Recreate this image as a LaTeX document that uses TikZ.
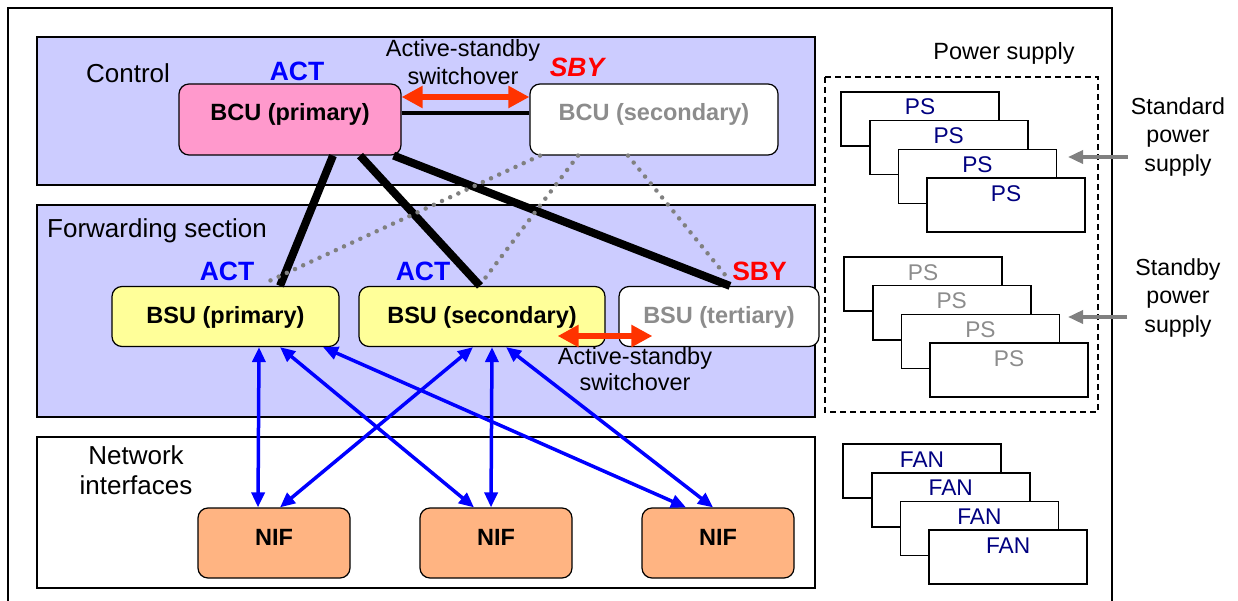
\documentclass[tikz,border=0pt]{standalone}
\usepackage{fontspec}
\setmainfont{Liberation Sans}
\usetikzlibrary{arrows.meta}
\definecolor{panelblue}{RGB}{204,204,255}
\definecolor{pinkfill}{RGB}{255,153,204}
\definecolor{yellowfill}{RGB}{255,255,153}
\definecolor{niforange}{RGB}{255,180,130}
\definecolor{arrowred}{RGB}{255,51,0}
\definecolor{dotgray}{RGB}{128,128,128}
\definecolor{graytext}{RGB}{140,140,140}
\definecolor{psnavy}{RGB}{0,0,128}

\begin{document}
\begin{tikzpicture}[x=1pt,y=-1pt,
  every node/.style={inner sep=0pt},
  panel/.style={draw,line width=1.2pt},
  unit/.style={draw,line width=1.2pt,rounded corners=10pt,inner sep=3pt,text height=17pt,font=\fontsize{23.5}{28}\selectfont\bfseries},
  stackbox/.style={draw,line width=1.6pt,fill=white,minimum width=158pt,minimum height=54pt,text height=16pt,text depth=24pt,font=\fontsize{22.7}{27}\selectfont},
  lbl/.style={font=\fontsize{26}{30}\selectfont,align=center},
  note/.style={font=\fontsize{23.5}{28}\selectfont,align=center},
  state/.style={font=\fontsize{26.5}{30}\selectfont\bfseries},
  link/.style={line width=8pt},
  backup/.style={draw=dotgray,line width=4.5pt,dash pattern=on 0pt off 9pt,line cap=round},
  bus/.style={draw=blue,line width=3.5pt,{Triangle[length=15pt,width=13pt]}-{Triangle[length=15pt,width=13pt]}},
  swap/.style={draw=arrowred,line width=6pt,{Triangle[length=21pt,width=21pt]}-{Triangle[length=21pt,width=21pt]}},
  feed/.style={draw=dotgray,line width=3.5pt,-{Triangle[length=15pt,width=13pt]}}]
\useasboundingbox (0,0) rectangle (1238,601);
\draw[line width=1.3pt] (8,601) -- (8,8) -- (1112,8) -- (1112,601);
\draw[panel,fill=panelblue] (37,37) rectangle (815,185);
\draw[panel,fill=panelblue] (37,205) rectangle (815,417);
\draw[panel] (37,437) rectangle (815,588);
\node[lbl] (ctl) at (128,73) {Control};
\node[lbl,anchor=west] (fwd) at (47,231) {Forwarding section};
\node[lbl] (nwif) at (136,470) {Network\\interfaces};
\node[note] (swtop) at (463,62) {Active-standby\\switchover};
\node[note,font=\fontsize{23.5}{26}\selectfont] (swbot) at (635,369) {Active-standby\\switchover};
\node[state,text=blue] (actA) at (297,71) {ACT};
\node[state,text=red,font=\fontsize{26.5}{30}\selectfont\bfseries\itshape] (sbyA) at (577,67) {SBY};
\node[state,text=blue] (actB) at (227,271) {ACT};
\node[state,text=blue] (actC) at (423,271) {ACT};
\node[state,text=red] (sbyB) at (759.5,271) {SBY};
\node[unit,fill=pinkfill,minimum width=222pt,minimum height=71pt,text depth=15pt] (bcuA) at (290,119.5) {BCU (primary)};
\node[unit,fill=white,text=graytext,minimum width=248pt,minimum height=71pt,text depth=15pt] (bcuB) at (654,119.5) {BCU (secondary)};
\node[unit,fill=yellowfill,minimum width=227pt,minimum height=60pt,text depth=3pt] (bsuA) at (225.5,316.5) {BSU (primary)};
\node[unit,fill=yellowfill,minimum width=246pt,minimum height=60pt,text depth=3pt] (bsuB) at (482,316.5) {BSU (secondary)};
\node[unit,fill=white,text=graytext,minimum width=200pt,minimum height=60pt,text depth=3pt] (bsuC) at (719,316.5) {BSU (tertiary)};
\foreach \n/\x in {1/274,2/496,3/718}
\node[unit,fill=niforange,minimum width=152pt,minimum height=70pt,text depth=12pt] (nif\n) at (\x,543) {NIF};
\draw[line width=4pt] ([yshift=6.5pt]bcuA.east) -- ([yshift=6.5pt]bcuB.west);
\draw[swap] ([yshift=22.5pt]bcuA.east) -- ([yshift=22.5pt]bcuB.west);
\draw[swap] ([xshift=-48pt,yshift=-19.5pt]bsuB.east) -- ([xshift=34pt,yshift=-19.5pt]bsuC.west);
\draw[link] ([xshift=43pt]bcuA.south) -- ([xshift=54.5pt]bsuA.north);
\draw[link] ([xshift=70pt]bcuA.south) -- ([xshift=-2pt]bsuB.north);
\draw[link] ([xshift=-8pt]bcuA.south east) -- ([xshift=11pt]bsuC.north);
\draw[backup] ([xshift=-114pt]bcuB.south) -- ([xshift=37.5pt,yshift=2pt]bsuA.north);
\draw[backup] ([xshift=-76pt]bcuB.south) -- ([xshift=1pt,yshift=5pt]bsuB.north);
\draw[backup] ([xshift=-26pt]bcuB.south) -- ([xshift=11pt,yshift=5pt]bsuC.north);
\foreach \s/\a/\t/\b in {bsuA/33.5/nif1/-16,bsuA/54.5/nif2/-22,bsuA/97.5/nif3/-32,bsuB/-9/nif1/6,bsuB/10/nif2/-5,bsuB/24/nif3/-5}
\draw[bus] ([xshift=\a pt]\s.south) -- ([xshift=\b pt]\t.north);
\node[note] (pwr) at (1004,53) {Power supply};
\draw[line width=1.5pt,dash pattern=on 6pt off 4pt] (825,77) rectangle (1098,412);
\foreach \i in {0,...,3} {
\node[stackbox,text=psnavy] (psA\i) at ({920+28.7*\i},{119+28.7*\i}) {PS};
\node[stackbox,text=graytext] (psB\i) at ({923+28.7*\i},{284+28.7*\i}) {PS};
\node[stackbox,text=psnavy] (fan\i) at ({922+28.7*\i},{471+28.7*\i}) {FAN};
}
\node[note,font=\fontsize{23.2}{28.5}\selectfont] (stdps) at (1178,137) {Standard\\power\\supply};
\node[note,font=\fontsize{23.2}{28.5}\selectfont] (sbyps) at (1178,298) {Standby\\power\\supply};
\coordinate (stdend) at (1068,157);
\coordinate (sbyend) at (1068,317);
\draw[feed] ([xshift=-3pt,yshift=-20pt]stdps.west) -- (stdend);
\draw[feed] ([xshift=-8pt,yshift=-19pt]sbyps.west) -- (sbyend);
\end{tikzpicture}
\end{document}
